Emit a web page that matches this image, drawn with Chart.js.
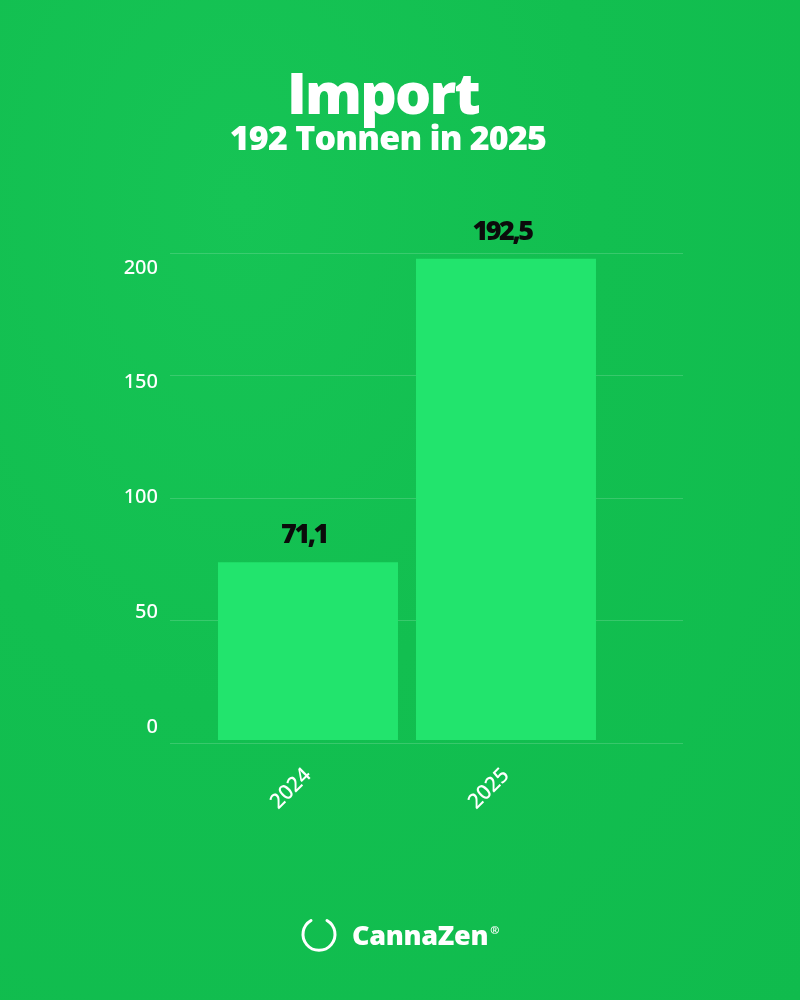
<!DOCTYPE html>
<html>
<head>
<meta charset="utf-8">
<script src="https://cdn.jsdelivr.net/npm/chart.js@4.4.1/dist/chart.umd.min.js"></script>
<style>
  html, body { margin: 0; padding: 0; }
  body {
    width: 800px; height: 1000px; overflow: hidden; position: relative;
    background: radial-gradient(ellipse at 30% 20%, #16c455 0%, #12bf50 45%, #10bb4d 100%);
  }
  #c { position: absolute; left: 0; top: 0; }
  .t { position: absolute; width: 800px; text-align: center; color: #fff;
       font-family: "Open Sans", "Noto Sans", sans-serif; font-weight: 800; white-space: nowrap; line-height: 1; }
  #title { left: -17px; top: 64px; font-size: 57px; letter-spacing: -1.8px; }
  #subtitle { left: -12px; top: 120px; font-size: 34px; letter-spacing: -0.8px; }
  #logo { position: absolute; left: 300px; top: 914px; height: 40px; display: flex; align-items: center; color: #fff;
          font-family: "Open Sans", "Noto Sans", sans-serif; font-weight: 800; font-size: 27px; letter-spacing: -0.3px; }
  #logo svg { margin-right: 14px; }
  #logo sup { font-size: 11px; font-weight: 700; position: relative; top: -5px; margin-left: 2px; }
</style>
</head>
<body>
<canvas id="c" width="800" height="1000"></canvas>
<div class="t" id="title">Import</div>
<div class="t" id="subtitle">192 Tonnen in 2025</div>
<div id="logo">
  <svg width="38" height="38" viewBox="0 0 38 38"><path d="M 11 5.5 A 16 16 0 1 0 27 5.5" fill="none" stroke="#fff" stroke-width="3" stroke-linecap="round"/></svg>
  <span>CannaZen</span><sup>®</sup>
</div>
<script>
const categories = ['2024', '2025'];
const importValues = [71.1, 192.5];
const valueLabels = ['71,1', '192,5'];
const yTickValues = [0, 50, 100, 150, 200];

const gridColor = 'rgba(255,255,255,0.16)';
const barColor = '#22e46d';
const tickFont = { family: '"Noto Sans", sans-serif', size: 20, weight: 500 };

const valueLabelPlugin = {
  id: 'valueLabels',
  afterDatasetsDraw(chart) {
    const ctx = chart.ctx;
    const meta = chart.getDatasetMeta(0);
    ctx.save();
    ctx.font = '800 27px "Open Sans", "Noto Sans", sans-serif';
    if ('letterSpacing' in ctx) ctx.letterSpacing = '-2.5px';
    ctx.fillStyle = '#0b0b0b';
    ctx.textAlign = 'center';
    ctx.textBaseline = 'alphabetic';
    meta.data.forEach((bar, i) => {
      ctx.fillText(valueLabels[i], bar.x - 4, bar.y - 19);
    });
    ctx.restore();
  }
};

const setTicks = s => { s.ticks = yTickValues.map(v => ({ value: v })); };

new Chart(document.getElementById('c'), {
  type: 'bar',
  data: {
    labels: categories,
    datasets: [{
      data: importValues,
      backgroundColor: barColor,
      borderWidth: 0,
      categoryPercentage: 1,
      barPercentage: 0.909,
      yAxisID: 'yb'
    }]
  },
  options: {
    responsive: false,
    animation: false,
    devicePixelRatio: 1,
    layout: { padding: { top: 253, left: 0, right: 117, bottom: 0 } },
    plugins: { legend: { display: false }, tooltip: { enabled: false } },
    scales: {
      x: {
        grid: { display: false, drawTicks: false },
        border: { display: false },
        ticks: { color: '#fff', font: { family: '"Noto Sans", sans-serif', size: 21, weight: 500 }, minRotation: 45, maxRotation: 45, padding: 20 },
        afterFit(s) { s.height = 257; }
      },
      // gridline axis (extends grid 39px left of plot)
      y: {
        position: 'left', weight: 0,
        min: 0, max: 200,
        afterBuildTicks: setTicks,
        grid: { color: gridColor, lineWidth: 1, drawTicks: true, tickLength: 39 },
        border: { display: false },
        ticks: { color: 'rgba(0,0,0,0)', padding: 0, font: { size: 1 } },
        afterFit(s) { s.width = 39; }
      },
      // tick label axis
      yl: {
        position: 'left', weight: 1,
        min: -7, max: 206.5,
        afterBuildTicks: setTicks,
        grid: { display: false, drawTicks: false },
        border: { display: false },
        ticks: { color: '#fff', font: tickFont, padding: 12 },
        afterFit(s) { s.width = 170; }
      },
      // bar value axis
      yb: {
        display: false,
        min: -1.2, max: 194.8
      },
      // gridline extension to the right of plot
      y2: {
        position: 'right',
        min: 0, max: 200,
        afterBuildTicks: setTicks,
        grid: { color: gridColor, lineWidth: 1, drawOnChartArea: false, drawTicks: true, tickLength: 78 },
        border: { display: false },
        ticks: { color: 'rgba(0,0,0,0)', padding: 0, font: { size: 1 } },
        afterFit(s) { s.width = 78; }
      }
    }
  },
  plugins: [valueLabelPlugin]
});
</script>
</body>
</html>
